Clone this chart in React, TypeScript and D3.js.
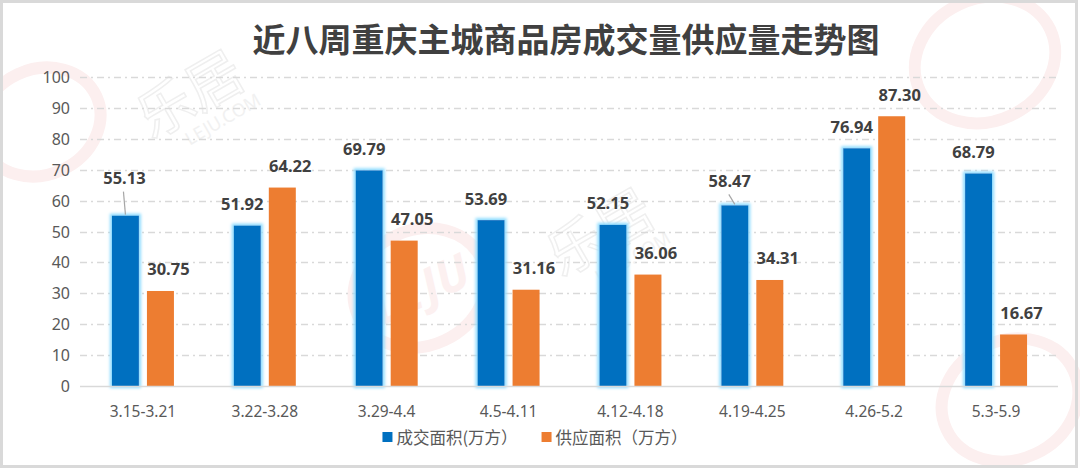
import React, { useRef, useEffect } from "react";
import * as d3 from "d3";

/* ---- data ---- */
const WEEKS = ["3.15-3.21", "3.22-3.28", "3.29-4.4", "4.5-4.11", "4.12-4.18", "4.19-4.25", "4.26-5.2", "5.3-5.9"];
const DEAL = [55.13, 51.92, 69.79, 53.69, 52.15, 58.47, 76.94, 68.79]; // 成交面积
const SUPPLY = [30.75, 64.22, 47.05, 31.16, 36.06, 34.31, 87.3, 16.67]; // 供应面积
const Y_TICKS = [0, 10, 20, 30, 40, 50, 60, 70, 80, 90, 100];
const SERIES = ["成交面积(万方）", "供应面积（万方）"];
const TITLE = "近八周重庆主城商品房成交量供应量走势图";

/* labels that were dragged up in the original, with a leader line */
const LIFTED: Record<string, number> = { "3.15-3.21": 16, "4.19-4.25": 3 };

const COLORS = ["#0070C0", "#ED7D31"];
const NUM_FONT = "'Noto Sans', 'Noto Sans CJK SC', sans-serif";
const CJK_FONT = "'Noto Sans CJK SC', 'Noto Sans', sans-serif";

export default function App() {
  const svgRef = useRef<SVGSVGElement>(null);

  useEffect(() => {
    const W = 1080;
    const H = 470;

    const svg = d3.select(svgRef.current);
    svg.selectAll("*").remove();
    svg.attr("viewBox", `0 0 ${W} ${H}`);

    /* ---- glow for blue bars ---- */
    const defs = svg.append("defs");
    const f = defs
      .append("filter")
      .attr("id", "glow")
      .attr("x", "-50%")
      .attr("y", "-20%")
      .attr("width", "200%")
      .attr("height", "140%");
    f.append("feMorphology").attr("in", "SourceAlpha").attr("operator", "dilate").attr("radius", 2).attr("result", "d");
    f.append("feGaussianBlur").attr("in", "d").attr("stdDeviation", 1.4).attr("result", "b");
    f.append("feFlood").attr("flood-color", "#8ddcff");
    f.append("feComposite").attr("in2", "b").attr("operator", "in").attr("result", "g");
    const mg = f.append("feMerge");
    mg.append("feMergeNode").attr("in", "g");
    mg.append("feMergeNode").attr("in", "SourceGraphic");

    svg.append("rect").attr("width", W).attr("height", H).attr("fill", "#fff");

    /* ---- faint watermarks (rings + wordmarks) ---- */
    const wm = svg.append("g").attr("fill", "none");
    const ring = (cx: number, cy: number, r: number, label: boolean) => {
      const s = wm.append("g").attr("transform", `translate(${cx},${cy}) rotate(-25)`);
      s.append("ellipse")
        .attr("rx", r)
        .attr("ry", r * 0.85)
        .attr("stroke", "#fcefef")
        .attr("stroke-width", 12);
      if (label) {
        s.append("text")
          .attr("text-anchor", "middle")
          .attr("dominant-baseline", "central")
          .attr("fill", "#fcf0f0")
          .style("font-family", NUM_FONT)
          .style("font-weight", 700)
          .style("font-style", "italic")
          .style("font-size", `${r * 0.7}px`)
          .text("LEJU");
      }
    };
    const wordmark = (x: number, y: number) => {
      const s = wm.append("g").attr("transform", `translate(${x},${y}) rotate(-30)`);
      s.append("text")
        .attr("text-anchor", "middle")
        .attr("fill", "none")
        .attr("stroke", "#efefef")
        .attr("stroke-width", 1.5)
        .style("font-family", CJK_FONT)
        .style("font-size", "56px")
        .text("乐居");
      s.append("text")
        .attr("y", 24)
        .attr("x", 16)
        .attr("text-anchor", "middle")
        .attr("fill", "#f1f1f1")
        .style("font-family", NUM_FONT)
        .style("font-size", "18px")
        .text("LEJU.COM");
    };
    ring(40, 122, 62, false);
    ring(420, 288, 68, true);
    ring(985, 60, 72, false);
    ring(1010, 400, 70, false);
    wordmark(200, 112);
    wordmark(610, 250);

    /* ---- frame ---- */
    svg.append("rect")
      .attr("x", 1.5)
      .attr("y", 1.5)
      .attr("width", 1075)
      .attr("height", 465)
      .attr("fill", "none")
      .attr("stroke", "#d9d9d9")
      .attr("stroke-width", 3);

    /* ---- scales ---- */
    const x = d3.scaleBand().domain(WEEKS).range([82, 1057]);
    const sub = d3.scaleBand<number>().domain([0, 1]).range([-31, 31]).paddingInner(8 / 35);
    const y = d3.scaleLinear().domain([0, 100]).range([386, 77]);
    const cx = (w: string) => (x(w) ?? 0) + x.bandwidth() / 2;

    /* ---- grid ---- */
    svg.append("g")
      .selectAll("line")
      .data(Y_TICKS.filter((t) => t > 0))
      .enter()
      .append("line")
      .attr("x1", 80)
      .attr("x2", 1058)
      .attr("y1", (d) => Math.round(y(d)) + 0.5)
      .attr("y2", (d) => Math.round(y(d)) + 0.5)
      .attr("stroke", "#d9d9d9")
      .attr("stroke-width", 1.5)
      .attr("stroke-dasharray", "7,4,2,4");

    svg.append("g")
      .selectAll("text")
      .data(Y_TICKS)
      .enter()
      .append("text")
      .attr("x", 70)
      .attr("y", (d) => y(d))
      .attr("text-anchor", "end")
      .attr("dominant-baseline", "central")
      .attr("fill", "#595959")
      .style("font-family", NUM_FONT)
      .style("font-size", "16px")
      .text((d) => d);

    /* ---- bars ---- */
    const series = [DEAL, SUPPLY];
    series.forEach((vals, si) => {
      svg.append("g")
        .attr("filter", si === 0 ? "url(#glow)" : null)
        .selectAll("rect")
        .data(vals)
        .enter()
        .append("rect")
        .attr("x", (_, i) => cx(WEEKS[i]) + (sub(si) ?? 0))
        .attr("y", (d) => y(d))
        .attr("width", sub.bandwidth())
        .attr("height", (d) => y(0) - y(d))
        .attr("fill", COLORS[si]);
    });

    /* ---- baseline ---- */
    svg.append("line")
      .attr("x1", 80)
      .attr("x2", 1058)
      .attr("y1", y(0) + 0.5)
      .attr("y2", y(0) + 0.5)
      .attr("stroke", "#d9d9d9")
      .attr("stroke-width", 1.5);

    /* ---- data labels ---- */
    const fmt = d3.format(".2f");
    series.forEach((vals, si) => {
      const g = svg.append("g");
      vals.forEach((v, i) => {
        const lift = si === 0 ? LIFTED[WEEKS[i]] ?? 0 : 0;
        const bx = cx(WEEKS[i]) + (sub(si) ?? 0) + sub.bandwidth() / 2;
        const lx = bx + (si === 0 ? -5 : 8) + (lift > 5 ? 4 : 0);
        const ly = y(v) - 22 - lift;
        if (lift) {
          g.append("line")
            .attr("x1", lx - 1)
            .attr("y1", ly + 14)
            .attr("x2", bx)
            .attr("y2", y(v) - 1)
            .attr("stroke", "#a6a6a6")
            .attr("stroke-width", 1.2);
        }
        g.append("text")
          .attr("x", lx)
          .attr("y", ly)
          .attr("text-anchor", "middle")
          .attr("dominant-baseline", "central")
          .attr("fill", "#404040")
          .style("font-family", NUM_FONT)
          .style("font-weight", 700)
          .style("font-size", "16.5px")
          .text(fmt(v));
      });
    });

    /* ---- x labels ---- */
    svg.append("g")
      .selectAll("text")
      .data(WEEKS)
      .enter()
      .append("text")
      .attr("x", (d) => cx(d))
      .attr("y", 411)
      .attr("text-anchor", "middle")
      .attr("dominant-baseline", "central")
      .attr("fill", "#595959")
      .style("font-family", NUM_FONT)
      .style("font-size", "15.5px")
      .text((d) => d);

    /* ---- title ---- */
    svg.append("text")
      .attr("x", 566)
      .attr("y", 38)
      .attr("text-anchor", "middle")
      .attr("dominant-baseline", "central")
      .attr("fill", "#404040")
      .style("font-family", CJK_FONT)
      .style("font-weight", 700)
      .style("font-size", "33px")
      .text(TITLE);

    /* ---- legend ---- */
    const lg = svg.append("g");
    let cursor = 0;
    SERIES.forEach((name, si) => {
      const item = lg.append("g").attr("transform", `translate(${cursor},0)`);
      item.append("rect").attr("x", 0).attr("y", -5).attr("width", 10).attr("height", 10).attr("fill", COLORS[si]);
      const t = item
        .append("text")
        .attr("x", 14)
        .attr("y", 0)
        .attr("dominant-baseline", "central")
        .attr("fill", "#595959")
        .style("font-family", CJK_FONT)
        .style("font-size", "16.5px")
        .text(name);
      const tw = (t.node() as SVGTextElement).getComputedTextLength();
      cursor += 14 + tw + 24;
    });
    const total = cursor - 24;
    lg.attr("transform", `translate(${535 - total / 2},437)`);
  }, []);

  return (
    <svg
      ref={svgRef}
      width={1080}
      height={470}
      style={{ position: "absolute", left: 0, top: 0, display: "block" }}
    />
  );
}
